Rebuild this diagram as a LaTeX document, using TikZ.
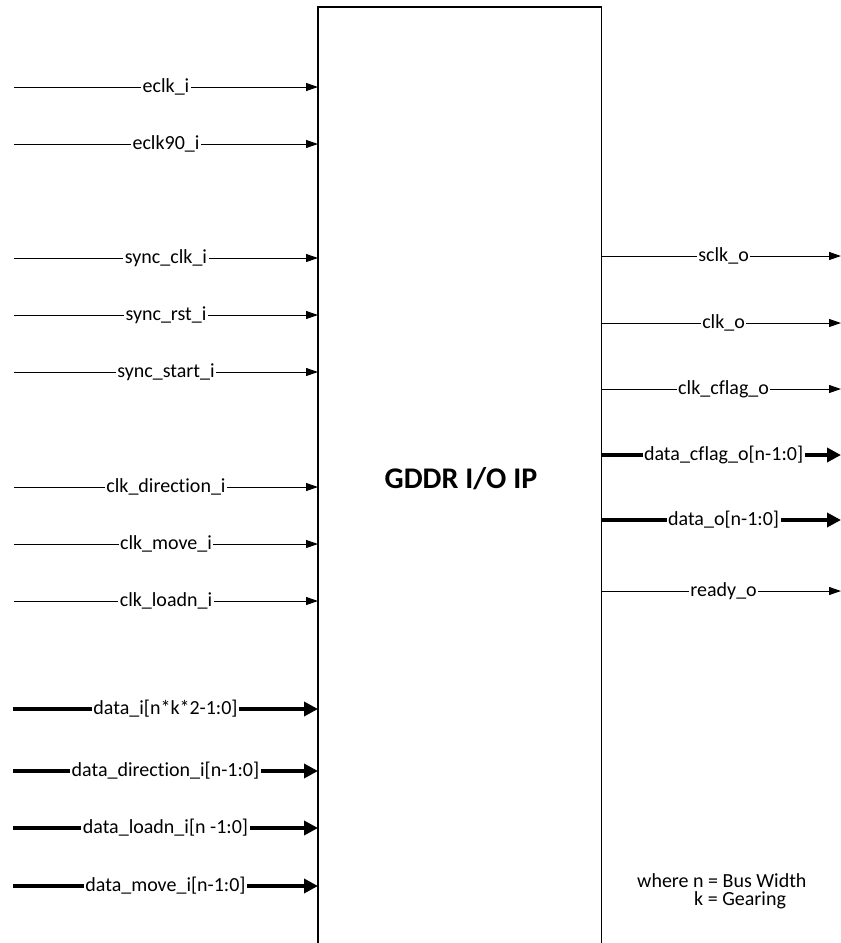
\documentclass[tikz,border=0pt]{standalone}
\usepackage{fontspec}
\setmainfont{Carlito}[Ligatures={NoCommon}]
\usetikzlibrary{arrows.meta}
\begin{document}
\begin{tikzpicture}[x=1pt,y=-1pt,
  sig/.style={line width=1pt, draw=black, -{Triangle[length=12pt,width=8pt]}},
  bus/.style={line width=4.5pt, draw=black, -{Triangle[length=14pt,width=14pt]}},
  lbl/.style={fill=white, inner xsep=1.5pt, inner ysep=0pt, text=black, font=\fontsize{20}{24}\selectfont},
  note/.style={inner sep=0pt, align=left, font=\fontsize{20}{18}\selectfont, anchor=base west},
]
\useasboundingbox (0,0) rectangle (841,943);
% IP block (open at the bottom)
\node[minimum width=283pt, minimum height=945pt, inner sep=0pt, anchor=north west] (ip) at (318,7) {};
\draw[line width=1.2pt] (ip.south west) -- (ip.north west) -- (ip.north east) -- (ip.south east);
\node[font=\bfseries\fontsize{30}{36}\selectfont] (title) at (461,479) {GDDR I/O IP};
% single-bit inputs
\foreach \yy/\tt [count=\i] in {87/{eclk\_i},144/{eclk90\_i},258/{sync\_clk\_i},315/{sync\_rst\_i},372/{sync\_start\_i},487/{clk\_direction\_i},544/{clk\_move\_i},601/{clk\_loadn\_i}}{
  \coordinate (a\i) at (14,\yy);
  \draw[sig] (a\i) -- (a\i -| ip.west) node[midway,lbl] (la\i) {\tt};
}
% bus inputs
\foreach \yy/\tt [count=\i] in {709/{data\_i[n*k*2-1:0]},771/{data\_direction\_i[n-1:0]},828/{data\_loadn\_i[n -1:0]},886/{data\_move\_i[n-1:0]}}{
  \coordinate (b\i) at (13,\yy);
  \draw[bus] (b\i) -- (b\i -| ip.west) node[midway,lbl] (lb\i) {\tt};
}
% single-bit outputs
\foreach \yy/\tt [count=\i] in {256/{sclk\_o},323/{clk\_o},389/{clk\_cflag\_o},591/{ready\_o}}{
  \coordinate (c\i) at (841,\yy);
  \draw[sig] (c\i -| ip.east) -- (c\i) node[pos=0.51,lbl] (lc\i) {\tt};
}
% bus outputs
\foreach \yy/\tt [count=\i] in {455/{data\_cflag\_o[n-1:0]},520/{data\_o[n-1:0]}}{
  \coordinate (d\i) at (841,\yy);
  \draw[bus] (d\i -| ip.east) -- (d\i) node[pos=0.51,lbl] (ld\i) {\tt};
}
% note
\node[note] (note) at (637,905) {where n = Bus Width\\\hspace*{57pt}k = Gearing};
\end{tikzpicture}
\end{document}
